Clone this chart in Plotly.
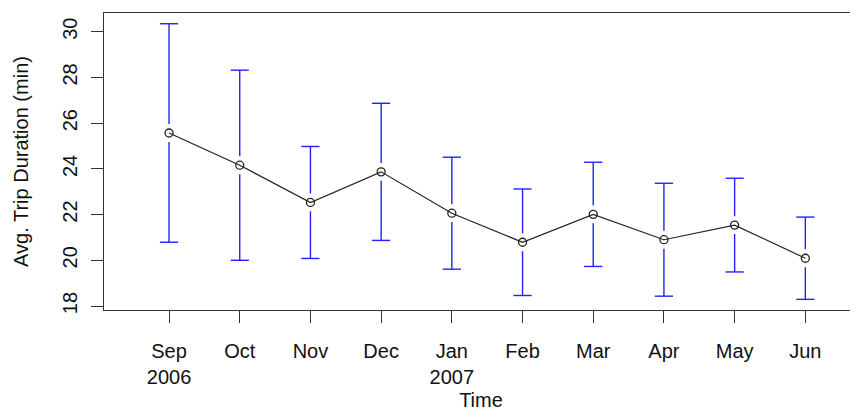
import plotly.graph_objects as go

months = ["Sep", "Oct", "Nov", "Dec", "Jan", "Feb", "Mar", "Apr", "May", "Jun"]
years = ["2006", "", "", "", "2007", "", "", "", "", ""]
mean_dur = [25.57, 24.16, 22.53, 23.87, 22.06, 20.79, 22.01, 20.90, 21.54, 20.09]
err_dur = [4.78, 4.16, 2.45, 3.00, 2.45, 2.33, 2.28, 2.47, 2.05, 1.80]

x = list(range(len(months)))
ticktext = [m + ("<br>" + y if y else "") for m, y in zip(months, years)]

AX = "#333333"
BLUE = "#2222ff"
FONT = "Liberation Sans, Arial, sans-serif"
GAP = 0.39  # gap (in axis units) between the point and the whisker, as R's arrows leave

upper = [m + e for m, e in zip(mean_dur, err_dur)]
lower = [m - e for m, e in zip(mean_dur, err_dur)]

# whisker segments (with gap around the point)
wx, wy = [], []
for xi, m, u, l in zip(x, mean_dur, upper, lower):
    wx += [xi, xi, None, xi, xi, None]
    wy += [m + GAP, u, None, m - GAP, l, None]

fig = go.Figure()
fig.add_trace(go.Scatter(
    x=wx, y=wy, mode="lines", line=dict(color=BLUE, width=1.4),
    hoverinfo="skip", showlegend=False))
# caps
fig.add_trace(go.Scatter(
    x=x + x, y=upper + lower, mode="markers",
    marker=dict(symbol="line-ew", size=13, color=BLUE, line=dict(color=BLUE, width=1.4)),
    hoverinfo="skip", showlegend=False))
# line + open circles
fig.add_trace(go.Scatter(
    x=x, y=mean_dur, mode="lines+markers",
    line=dict(color="#222222", width=1.2),
    marker=dict(symbol="circle-open", size=8, color="#222222", line=dict(width=1.3)),
    showlegend=False))

fig.update_layout(
    width=850, height=404,
    margin=dict(l=96, r=0, t=4.5, b=102, autoexpand=False),
    paper_bgcolor="white", plot_bgcolor="white",
    font=dict(family=FONT, size=20, color="#111111"),
)
fig.update_xaxes(
    range=[-0.92, 9.745], tickvals=x, ticktext=ticktext,
    showgrid=False, zeroline=False, automargin=False,
    showline=True, linecolor=AX, linewidth=1.3, mirror=True,
    ticks="outside", ticklen=12, tickwidth=1.3, tickcolor=AX,
    ticklabelstandoff=11,
    title=dict(text="Time", standoff=5, font=dict(size=20)),
)
fig.update_yaxes(
    range=[17.825, 30.82], tickvals=[18, 20, 22, 24, 26, 28, 30],
    showgrid=False, zeroline=False, automargin=False,
    showline=True, linecolor=AX, linewidth=1.3,
    ticks="outside", ticklen=12, tickwidth=1.3, tickcolor=AX,
    tickangle=-90, ticklabelstandoff=6,
    title=dict(text="Avg. Trip Duration (min)", standoff=24, font=dict(size=20)),
)

fig.write_html("out.html")
